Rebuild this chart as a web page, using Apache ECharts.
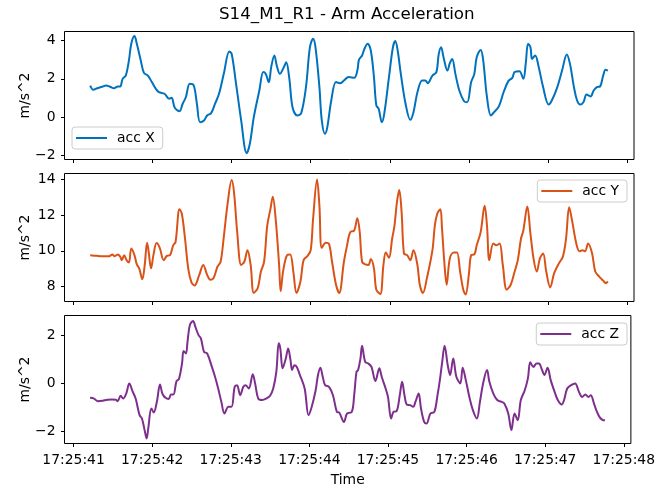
<!DOCTYPE html>
<html>
<head>
<meta charset="utf-8">
<title>S14_M1_R1 - Arm Acceleration</title>
<script src="https://cdn.jsdelivr.net/npm/echarts@6/dist/echarts.min.js"></script>
<style>
  html, body { margin: 0; padding: 0; background: #fff; }
  #main { width: 658px; height: 489px; }
</style>
</head>
<body>
<div id="main"></div>
<script>
// seconds after 17:25:00
const timeX = [41.21,41.25,41.30,41.37,41.41,41.47,41.51,41.56,41.59,41.62,41.66,41.70,41.73,41.77,41.80,41.85,41.89,41.94,41.99,42.04,42.08,42.15,42.21,42.24,42.28,42.34,42.38,42.42,42.47,42.52,42.56,42.60,42.65,42.69,42.74,42.79,42.84,42.90,42.97,43.00,43.05,43.12,43.19,43.23,43.28,43.35,43.40,43.43,43.47,43.50,43.54,43.57,43.61,43.66,43.69,43.73,43.77,43.83,43.88,43.94,43.99,44.03,44.06,44.11,44.14,44.18,44.21,44.26,44.32,44.37,44.42,44.48,44.55,44.59,44.61,44.65,44.68,44.72,44.76,44.80,44.83,44.86,44.90,44.93,44.99,45.04,45.07,45.10,45.14,45.20,45.26,45.30,45.35,45.41,45.45,45.48,45.54,45.59,45.62,45.65,45.68,45.73,45.76,45.79,45.83,45.88,45.94,45.98,46.03,46.07,46.10,46.15,46.18,46.23,46.28,46.32,46.38,46.44,46.50,46.55,46.58,46.64,46.69,46.72,46.75,46.78,46.80,46.84,46.88,46.94,47.01,47.05,47.12,47.18,47.24,47.28,47.33,47.37,47.41,47.45,47.49,47.54,47.58,47.62,47.66,47.70,47.73,47.76];
const accX = [1.65,1.43,1.51,1.60,1.65,1.57,1.51,1.60,1.60,2.00,2.17,2.96,3.83,4.23,3.83,2.96,2.31,2.17,1.83,1.48,1.30,1.22,0.96,1.01,0.49,0.31,0.70,1.04,1.74,1.65,0.70,-0.26,-0.17,0.09,0.21,0.70,1.22,2.26,3.43,3.30,1.91,-0.17,-1.88,-1.39,0.00,1.39,2.35,2.26,1.83,2.61,3.22,2.70,2.26,2.61,2.87,2.00,0.52,0.09,0.21,1.57,3.65,4.09,3.65,1.57,-0.17,-0.87,-0.52,0.87,1.83,1.77,1.91,2.09,2.05,2.43,2.99,3.22,3.57,3.83,3.48,2.09,0.61,0.43,-0.26,0.17,2.09,3.65,3.97,3.48,2.26,0.70,-0.14,0.26,1.30,1.91,1.91,1.77,2.17,2.35,3.30,3.65,3.13,2.43,2.82,3.04,2.26,1.39,0.83,0.78,1.83,2.26,3.13,3.51,3.04,1.04,0.09,0.26,0.56,1.30,1.88,2.05,2.35,2.40,2.00,2.78,3.83,3.65,3.04,3.22,2.70,1.57,0.66,0.87,1.57,2.43,3.27,2.78,1.57,0.87,0.66,0.78,1.18,1.08,1.39,1.57,1.60,2.17,2.47,2.43];

const timeY = [41.21,41.30,41.39,41.45,41.49,41.52,41.56,41.59,41.61,41.64,41.67,41.70,41.73,41.77,41.80,41.83,41.87,41.90,41.93,41.95,41.98,42.01,42.05,42.09,42.14,42.18,42.22,42.26,42.29,42.34,42.37,42.41,42.45,42.49,42.53,42.59,42.64,42.69,42.73,42.77,42.82,42.86,42.90,42.95,43.00,43.03,43.07,43.12,43.16,43.20,43.24,43.28,43.33,43.37,43.41,43.45,43.49,43.52,43.56,43.60,43.62,43.65,43.70,43.74,43.78,43.82,43.87,43.91,43.96,44.00,44.03,44.08,44.11,44.14,44.19,44.23,44.27,44.32,44.36,44.42,44.46,44.50,44.55,44.59,44.62,44.65,44.69,44.73,44.76,44.80,44.83,44.88,44.92,44.95,44.99,45.03,45.06,45.09,45.12,45.15,45.18,45.22,45.26,45.30,45.35,45.38,45.42,45.47,45.54,45.57,45.60,45.64,45.66,45.69,45.72,45.76,45.81,45.85,45.89,45.93,45.96,46.00,46.03,46.07,46.10,46.15,46.20,46.23,46.26,46.31,46.35,46.39,46.43,46.48,46.53,46.58,46.62,46.66,46.69,46.74,46.78,46.82,46.86,46.90,46.94,46.98,47.03,47.08,47.14,47.19,47.23,47.27,47.31,47.36,47.40,47.44,47.47,47.51,47.56,47.60,47.65,47.71,47.73,47.76];
const accY = [9.76,9.72,9.70,9.70,9.80,9.70,9.80,9.67,9.48,9.76,9.48,9.35,10.13,9.76,9.24,9.02,8.41,9.21,10.46,9.94,9.02,9.76,10.44,10.17,9.48,9.72,9.76,10.31,10.50,12.34,12.07,10.68,9.02,8.25,8.06,8.65,9.21,8.65,8.38,8.47,9.11,9.39,10.77,12.71,13.97,13.27,11.05,9.21,9.39,10.04,9.21,7.64,7.92,8.84,9.39,11.42,12.34,13.04,11.61,9.21,7.73,8.84,9.76,9.80,8.84,7.64,8.28,9.48,9.72,10.04,11.79,14.00,12.53,10.17,10.46,10.41,9.39,8.10,7.64,9.39,10.31,11.05,11.14,11.83,11.05,9.39,9.24,9.21,9.54,9.02,7.82,7.58,9.21,9.91,9.61,10.68,11.42,12.71,13.41,12.16,9.85,9.76,9.48,10.04,9.21,8.10,7.64,8.47,10.04,11.42,12.07,12.34,11.33,9.39,8.10,9.58,9.91,9.91,8.84,7.82,7.55,8.65,9.76,9.80,10.31,11.05,12.53,11.42,9.48,10.41,10.31,10.41,9.21,7.82,8.10,8.84,9.48,10.68,11.14,12.49,10.96,9.54,8.84,9.58,9.85,8.84,7.95,8.75,9.30,9.67,10.68,12.44,11.61,10.41,9.98,10.04,9.98,10.41,9.85,8.84,8.56,8.28,8.19,8.28];

const timeZ = [41.21,41.26,41.31,41.37,41.43,41.49,41.54,41.56,41.60,41.63,41.67,41.71,41.75,41.79,41.84,41.87,41.90,41.93,41.95,41.99,42.02,42.06,42.10,42.13,42.17,42.21,42.24,42.27,42.31,42.34,42.38,42.40,42.43,42.45,42.48,42.52,42.55,42.59,42.62,42.66,42.70,42.76,42.80,42.84,42.88,42.92,42.97,43.01,43.05,43.08,43.12,43.16,43.19,43.23,43.28,43.31,43.35,43.40,43.45,43.50,43.54,43.58,43.61,43.63,43.66,43.70,43.73,43.76,43.78,43.81,43.84,43.88,43.94,43.99,44.03,44.08,44.11,44.14,44.17,44.20,44.25,44.30,44.35,44.38,44.44,44.48,44.54,44.57,44.60,44.62,44.65,44.67,44.71,44.75,44.79,44.84,44.89,44.92,44.97,45.00,45.04,45.07,45.11,45.15,45.18,45.21,45.24,45.28,45.32,45.35,45.39,45.42,45.46,45.49,45.54,45.59,45.63,45.66,45.69,45.72,45.76,45.79,45.83,45.87,45.92,45.95,45.99,46.04,46.08,46.13,46.17,46.21,46.26,46.29,46.34,46.39,46.44,46.48,46.53,46.57,46.61,46.65,46.69,46.74,46.78,46.81,46.85,46.89,46.92,46.96,46.99,47.03,47.07,47.12,47.16,47.21,47.24,47.28,47.33,47.38,47.43,47.47,47.51,47.55,47.58,47.62,47.65,47.69,47.74,47.76];
const accZ = [-0.60,-0.63,-0.74,-0.72,-0.68,-0.67,-0.68,-0.74,-0.51,-0.63,-0.42,0.00,-0.32,-0.63,-1.32,-1.46,-1.88,-2.29,-1.88,-1.04,-1.21,-0.76,-0.04,-0.42,-0.60,-0.65,-0.46,-0.46,0.10,0.18,0.83,1.35,1.25,1.74,2.43,2.60,2.36,2.01,1.88,1.32,1.25,0.69,0.28,-0.21,-0.76,-1.25,-0.97,-0.97,-0.14,-0.07,-0.49,-0.14,-0.07,-0.21,0.38,0.00,-0.63,-0.69,-0.63,-0.51,-0.21,0.49,1.67,1.46,0.63,1.04,1.46,0.97,0.56,0.76,0.69,0.35,-0.21,-1.32,-0.97,-0.28,0.35,0.65,0.28,-0.07,-0.14,-0.49,-1.18,-1.21,-1.60,-1.25,-1.18,-0.49,0.49,0.56,1.04,1.57,0.90,0.83,0.69,0.10,0.63,0.28,-0.21,-0.56,-1.46,-1.18,-1.15,-0.49,0.07,-0.49,-0.88,-0.90,-0.97,-0.76,-0.42,-1.04,-1.60,-1.67,-1.25,-1.18,-0.49,0.14,0.90,1.57,0.76,0.35,1.04,0.28,0.00,0.65,0.14,-0.63,-1.11,-1.46,-0.76,0.00,0.56,0.07,-0.42,-0.69,-0.76,-0.83,-1.25,-1.94,-1.25,-1.53,-0.69,-0.28,0.21,0.88,0.69,0.83,0.83,0.56,0.35,0.65,0.14,-0.35,-0.69,-0.88,-0.69,-0.21,-0.07,0.00,-0.35,-0.56,-0.46,-0.56,-0.49,-0.83,-1.11,-1.39,-1.53,-1.53];

const timeTicks = [41, 42, 43, 44, 45, 46, 47, 48];
const ticksX = [-2, 0, 2, 4];
const ticksY = [8, 10, 12, 14];
const ticksZ = [-2, 0, 2];

const FONT = "DejaVu Sans";
const colors = ["#0072BD", "#D95319", "#7E2F8E"];

function zip(t, v) {
  return t.map((x, i) => [x, v[i]]);
}

const tops = [31.5, 173.5, 315.5];
const grids = tops.map(t => ({
  left: 64.5, right: 24, top: t, height: 128,
  show: true, borderColor: "#000", borderWidth: 1, backgroundColor: "transparent"
}));

const xAxes = [0, 1, 2].map(i => ({
  type: "value",
  gridIndex: i,
  min: 40.885,
  max: 48.09,
  name: i === 2 ? "Time" : "",
  nameLocation: "middle",
  nameGap: 30,
  nameMoveOverlap: false,
  nameTextStyle: { fontFamily: FONT, fontSize: 13.9, color: "#000" },
  axisLine: { show: false, onZero: false },
  splitLine: { show: false },
  axisTick: { show: true, length: 3.5, customValues: timeTicks, lineStyle: { color: "#000", width: 1 } },
  axisLabel: {
    show: i === 2,
    customValues: timeTicks,
    margin: 10,
    fontFamily: FONT, fontSize: 13.9, color: "#000",
    formatter: v => "17:25:" + String(Math.round(v)).padStart(2, "0")
  }
}));

const yRanges = [[-2.21, 4.47], [7.16, 14.34], [-2.5, 2.83]];
const yTicks = [ticksX, ticksY, ticksZ];
const yAxes = [0, 1, 2].map(i => ({
  type: "value",
  gridIndex: i,
  min: yRanges[i][0],
  max: yRanges[i][1],
  name: "m/s^2",
  nameLocation: "middle",
  nameGap: 32,
  nameMoveOverlap: false,
  nameTextStyle: { fontFamily: FONT, fontSize: 13.9, color: "#000" },
  axisLine: { show: false, onZero: false },
  splitLine: { show: false },
  axisTick: { show: true, length: 3.5, customValues: yTicks[i], lineStyle: { color: "#000", width: 1 } },
  axisLabel: {
    customValues: yTicks[i],
    margin: 9,
    fontFamily: FONT, fontSize: 13.9, color: "#000",
    formatter: v => (v < 0 ? "\u2212" + Math.abs(v) : String(v))
  }
}));

const names = ["acc X", "acc Y", "acc Z"];
const datas = [zip(timeX, accX), zip(timeY, accY), zip(timeZ, accZ)];
const series = [0, 1, 2].map(i => ({
  name: names[i],
  type: "line",
  xAxisIndex: i,
  yAxisIndex: i,
  data: datas[i],
  showSymbol: false,
  smooth: 0.35,
  color: colors[i],
  lineStyle: { width: 2, color: colors[i] }
}));

const legendBase = {
  orient: "horizontal",
  icon: "rect",
  itemWidth: 31,
  itemHeight: 2,
  selectedMode: false,
  backgroundColor: "rgba(255,255,255,0.8)",
  borderColor: "#cccccc",
  borderWidth: 1,
  borderRadius: 3,
  padding: [4, 8, 4, 4],
  textStyle: { fontFamily: FONT, fontSize: 13.9, color: "#000", padding: [0, 0, 0, 5] }
};
const legends = [
  Object.assign({}, legendBase, { data: ["acc X"], left: 72, top: 127 }),
  Object.assign({}, legendBase, { data: ["acc Y"], right: 31, top: 180 }),
  Object.assign({}, legendBase, { data: ["acc Z"], right: 31, top: 323 })
];

const chart = echarts.init(document.getElementById("main"));
chart.setOption({
  animation: false,
  backgroundColor: "#fff",
  title: {
    text: "S14_M1_R1 - Arm Acceleration",
    left: 219,
    top: 6,
    padding: 0,
    textStyle: { fontFamily: FONT, fontSize: 16.7, fontWeight: "normal", color: "#000" }
  },
  grid: grids,
  xAxis: xAxes,
  yAxis: yAxes,
  legend: legends,
  series: series
});
</script>
</body>
</html>
